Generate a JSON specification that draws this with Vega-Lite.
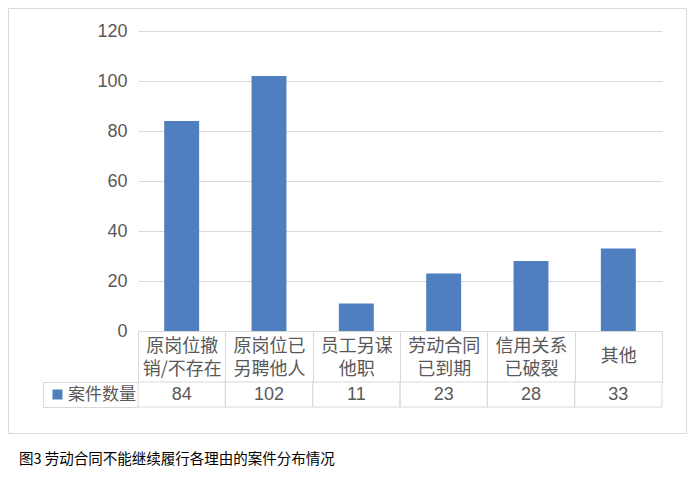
{
  "$schema": "https://vega.github.io/schema/vega-lite/v6.json",
  "autosize": "none",
  "width": 678,
  "height": 425,
  "padding": {"left": 8, "top": 8, "right": 8, "bottom": 46},
  "background": "white",
  "title": {
    "text": "图3 劳动合同不能继续履行各理由的案件分布情况",
    "orient": "bottom",
    "anchor": "start",
    "frame": "group",
    "fontSize": 14.5,
    "fontWeight": "normal",
    "color": "#000000",
    "offset": 20,
    "dx": 11
  },
  "data": {
    "values": [
      {"reason": "原岗位撤销/不存在", "cases": 84},
      {"reason": "原岗位已另聘他人", "cases": 102},
      {"reason": "员工另谋他职", "cases": 11},
      {"reason": "劳动合同已到期", "cases": 23},
      {"reason": "信用关系已破裂", "cases": 28},
      {"reason": "其他", "cases": 33}
    ]
  },
  "layer": [
    {
      "mark": {"type": "bar", "width": {"band": 0.4}},
      "encoding": {
        "x": {
          "field": "reason",
          "type": "nominal",
          "sort": null,
          "scale": {"range": [130, 654], "paddingInner": 0, "paddingOuter": 0},
          "axis": {
            "title": null,
            "orient": "bottom",
            "offset": -102,
            "domainColor": "#d9d9d9",
            "ticks": true,
            "tickBand": "extent",
            "tickSize": 51,
            "tickColor": "#d9d9d9",
            "labelAngle": 0,
            "labelBaseline": "middle",
            "labelPadding": {"condition": {"test": "length(datum.label) > 4", "value": -36}, "value": -26},
            "labelFontSize": 18,
            "labelLineHeight": 23,
            "labelColor": "#595959",
            "labelExpr": "length(datum.label) > 4 ? [substring(datum.label, 0, 4), substring(datum.label, 4)] : datum.label"
          }
        },
        "y": {
          "field": "cases",
          "type": "quantitative",
          "scale": {"domain": [0, 120], "range": [323, 23], "nice": false},
          "axis": {
            "title": null,
            "offset": -130,
            "values": [0, 20, 40, 60, 80, 100, 120],
            "domain": false,
            "ticks": false,
            "grid": true,
            "gridColor": "#d9d9d9",
            "labelPadding": 11,
            "labelFont": "Liberation Sans",
            "labelFontSize": 18,
            "labelColor": "#595959"
          }
        },
        "color": {
          "datum": "案件数量",
          "type": "nominal",
          "scale": {"range": ["#4f7fbf"]},
          "legend": {
            "title": null,
            "orient": "none",
            "legendX": 41,
            "legendY": 378,
            "padding": 0,
            "symbolType": "square",
            "symbolSize": 100,
            "symbolStrokeWidth": 0,
            "labelFontSize": 17,
            "labelColor": "#595959",
            "labelOffset": 2
          }
        }
      }
    },
    {
      "mark": {"type": "rect", "fill": "white", "fillOpacity": 0, "stroke": "#d9d9d9", "strokeWidth": 1},
      "encoding": {
        "x": {"field": "reason", "type": "nominal", "sort": null},
        "y": {
          "datum": "案件数量",
          "type": "nominal",
          "scale": {"range": [374, 399], "paddingInner": 0, "paddingOuter": 0},
          "axis": {
            "title": null,
            "orient": "left",
            "offset": -35,
            "domainColor": "#d9d9d9",
            "ticks": true,
            "tickBand": "extent",
            "tickSize": -95,
            "tickColor": "#d9d9d9",
            "labels": false
          }
        }
      }
    },
    {
      "mark": {"type": "text", "font": "Liberation Sans", "fontSize": 18, "color": "#595959", "baseline": "middle"},
      "encoding": {
        "x": {"field": "reason", "type": "nominal", "sort": null},
        "y": {
          "datum": "案件数量",
          "type": "nominal",
          "scale": {"range": [374, 399], "paddingInner": 0, "paddingOuter": 0},
          "axis": null
        },
        "text": {"field": "cases", "type": "quantitative"}
      }
    }
  ],
  "resolve": {"scale": {"y": "independent"}, "axis": {"y": "independent"}},
  "config": {
    "font": "Noto Sans CJK SC",
    "view": {"stroke": "#d9d9d9", "strokeWidth": 1}
  }
}
